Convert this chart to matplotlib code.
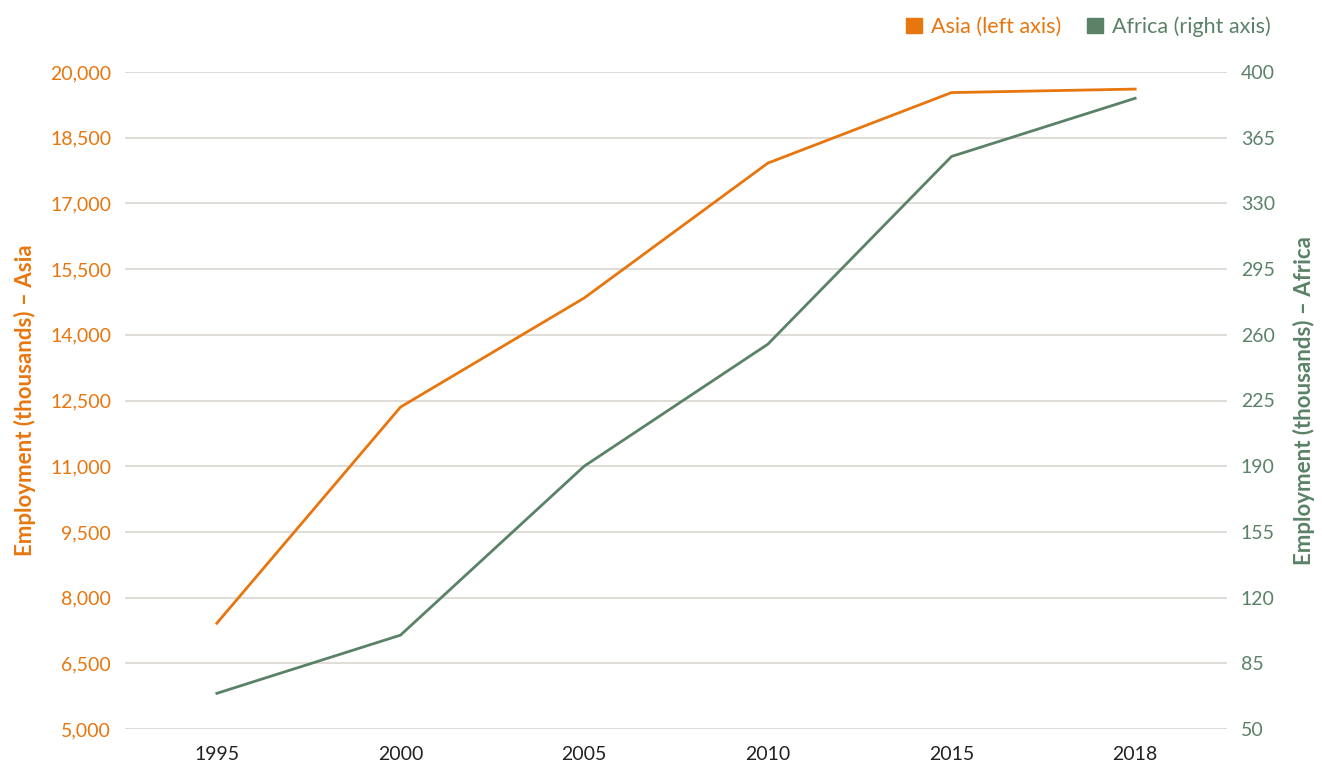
import matplotlib
matplotlib.use("Agg")
import matplotlib.pyplot as plt
from matplotlib.patches import Patch
from matplotlib.ticker import FuncFormatter

years = ["1995", "2000", "2005", "2010", "2015", "2018"]
asia = [7415, 12350, 14840, 17920, 19530, 19610]
africa = [69, 100, 190, 255, 355, 386]
asia_ticks = [5000, 6500, 8000, 9500, 11000, 12500, 14000, 15500, 17000, 18500, 20000]
africa_ticks = [50, 85, 120, 155, 190, 225, 260, 295, 330, 365, 400]

ORANGE = "#E8760E"
GREEN = "#5A8266"
GRID = "#DAD6D1"
plt.rcParams['font.family'] = ['Lato', 'DejaVu Sans']

fig = plt.figure(figsize=(13.22, 7.71), dpi=100)
ax = fig.add_axes([125/1322, 42/771, 1102/1322, 657/771])
ax2 = ax.twinx()

x = list(range(len(years)))
ax.plot(x, asia, color=ORANGE, lw=2.0, zorder=3)
ax2.plot(x, africa, color=GREEN, lw=2.0, zorder=3)

ax.set_xlim(-0.5, len(years) - 0.5)
ax.set_ylim(asia_ticks[0], asia_ticks[-1])
ax2.set_ylim(africa_ticks[0], africa_ticks[-1])
ax.set_yticks(asia_ticks)
ax2.set_yticks(africa_ticks)
ax.yaxis.set_major_formatter(FuncFormatter(lambda v, p: f"{int(v):,}"))
ax.set_xticks(x)
ax.set_xticklabels(years)

ax.grid(axis='y', color=GRID, lw=1.2)
ax.set_axisbelow(True)
for a in (ax, ax2):
    for s in a.spines.values():
        s.set_visible(False)
ax.tick_params(axis='both', length=0, labelsize=14)
ax.tick_params(axis='y', colors=ORANGE, pad=10)
ax.tick_params(axis='x', colors="#222222", pad=12)
ax2.tick_params(axis='y', length=0, labelsize=14, colors=GREEN, pad=10)

ax.set_ylabel("Employment (thousands) – Asia", color=ORANGE, fontsize=16,
              fontweight='bold', labelpad=10)
ax2.set_ylabel("Employment (thousands) – Africa", color=GREEN, fontsize=16,
               fontweight='bold', labelpad=13)

handles = [Patch(color=ORANGE, label="Asia (left axis)"),
           Patch(color=GREEN, label="Africa (right axis)")]
leg = fig.legend(handles=handles, loc='upper right', bbox_to_anchor=(1290/1322, 1 + 3/771),
                 ncol=2, frameon=False, fontsize=15.5, handlelength=0.75, handleheight=0.75,
                 handletextpad=0.4, columnspacing=1.2, labelcolor=[ORANGE, GREEN])

fig.savefig("out.png", dpi=100)
